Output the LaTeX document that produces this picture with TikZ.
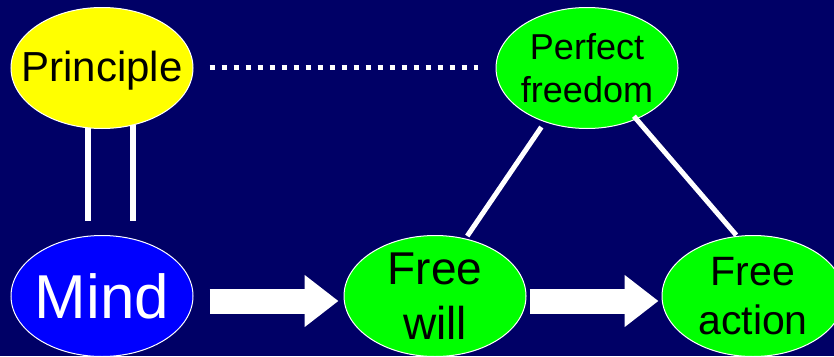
\documentclass[tikz,border=0pt]{standalone}
\usepackage{fontspec}
\setmainfont{Liberation Sans}
\usetikzlibrary{shapes.geometric,arrows.meta}
\definecolor{bgnavy}{RGB}{0,0,102}
\definecolor{ygold}{RGB}{255,255,0}
\definecolor{mblue}{RGB}{0,0,255}
\definecolor{fgreen}{RGB}{0,255,0}
\tikzset{
  bubble/.style={ellipse, draw=white, line width=1pt, inner sep=0pt,
    minimum width=182pt, minimum height=121pt},
  btext/.style={align=center, inner sep=0pt, text=black},
  conn/.style={draw=white, line width=5pt},
  dotline/.style={draw=white, line width=5.5pt, dash pattern=on 5.5pt off 6.5pt},
  bigarrow/.style={draw=white, line width=25pt, -{Triangle[width=50pt,length=34pt]}},
}
\begin{document}
\begin{tikzpicture}[x=1pt,y=-1pt]
\fill[bgnavy] (0,0) rectangle (834,356);
\useasboundingbox (0,0) rectangle (834,356);
\node[bubble, fill=ygold,
  label={[btext, yshift=-3pt, font=\fontsize{42}{48}\selectfont]center:Principle}] (pr) at (102,68) {};
\node[bubble, fill=mblue,
  label={[btext, text=white, font=\fontsize{62}{70}\selectfont]center:Mind}] (mi) at (102,296) {};
\node[bubble, fill=fgreen,
  label={[btext, font=\fontsize{36}{43}\selectfont]center:Perfect\\freedom}] (pf) at (587,68) {};
\node[bubble, fill=fgreen,
  label={[btext, font=\fontsize{46}{55}\selectfont]center:Free\\will}] (fw) at (435,296) {};
\node[bubble, fill=fgreen,
  label={[btext, font=\fontsize{41}{49}\selectfont]center:Free\\action}] (fa) at (753,296) {};
% double lines
\draw[conn, line width=6pt, shorten <=-1pt, shorten >=14pt] ([xshift=-14pt]pr.south) -- ([xshift=-14pt]mi.north);
\draw[conn, line width=6pt, shorten <=-4pt, shorten >=14pt] ([xshift=31pt]pr.south) -- ([xshift=31pt]mi.north);
% dotted
\draw[dotline, shorten <=16pt, shorten >=18pt] ([yshift=0.5pt]pr.east) -- ([yshift=0.5pt]pf.west);
% triangle lines
\draw[conn, shorten <=6pt, shorten >=3pt] (pf.232) -- (fw.62);
\draw[conn, shorten <=-4pt, shorten >=1pt] (pf.314) -- (fa.105);
% block arrows
\draw[bigarrow, shorten <=16pt, shorten >=5pt] ([yshift=-5pt]mi.east) -- ([yshift=-5pt]fw.west);
\draw[bigarrow, shorten <=3pt, shorten >=3pt] ([yshift=-5pt]fw.east) -- ([yshift=-5pt]fa.west);
\end{tikzpicture}
\end{document}
